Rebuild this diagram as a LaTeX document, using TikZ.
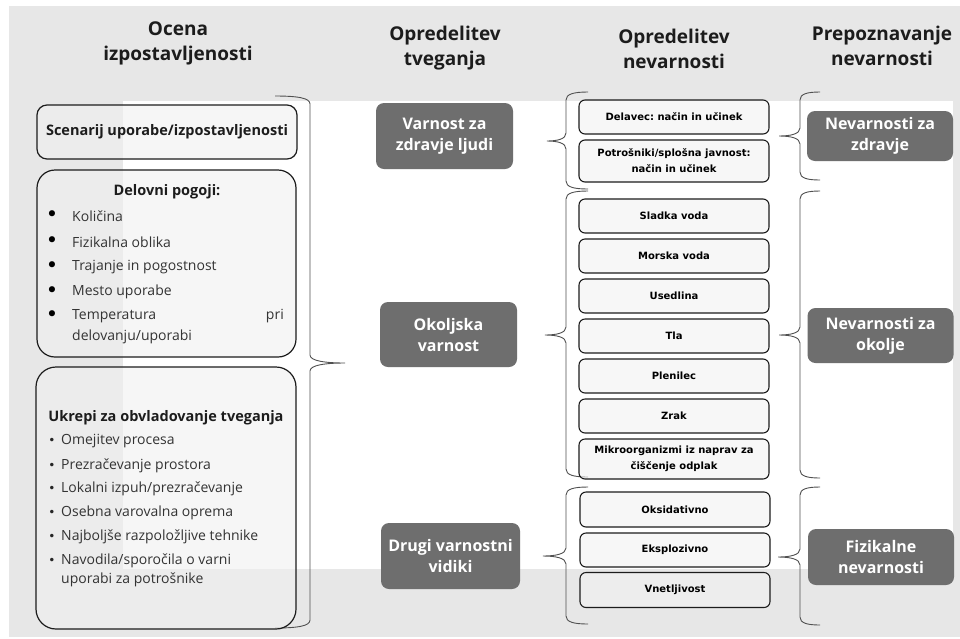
\documentclass[tikz,border=0pt]{standalone}
\usepackage{fontspec}
\setmainfont{Open Sans}
\newfontfamily\smallboxfont{DejaVu Sans}
\newfontfamily\bulletfont{DejaVu Sans}
\frenchspacing
\definecolor{bggray}{HTML}{E7E7E7}
\definecolor{darkfill}{HTML}{6E6E6E}
\definecolor{inkc}{HTML}{1C1C1C}
\definecolor{bracec}{HTML}{505050}
\newcommand{\curlybr}[6]{% #1 xv, #2 ytop, #3 ybot, #4 ymid, #5 hook x, #6 tip x
  \draw[bracestyle] (#5,#2) .. controls ({#1+0.35*(#5-#1)},#2) and (#1,{#2+2}) .. (#1,{#2+8})
    -- (#1,{#4-8}) .. controls (#1,{#4-2}) and ({#1+0.45*(#6-#1)},#4) .. (#6,#4)
    .. controls ({#1+0.45*(#6-#1)},#4) and (#1,{#4+2}) .. (#1,{#4+8})
    -- (#1,{#3-8}) .. controls (#1,{#3-2}) and ({#1+0.35*(#5-#1)},#3) .. (#5,#3);}
\begin{document}
\begin{tikzpicture}[x=1pt,y=-1pt,
  hdr/.style={font=\fontsize{19}{25}\selectfont\bfseries, text=inkc, align=center},
  lbox/.style={draw=inkc, line width=1.2pt, fill=black!6, fill opacity=0.6, text opacity=1, inner sep=0pt},
  ltitle/.style={font=\fontsize{14.5}{18}\selectfont\bfseries, text=inkc},
  item/.style={font=\fontsize{14}{17}\selectfont, text=black!80, anchor=west, inner sep=0pt},
  bigbul/.style={font=\bulletfont\fontsize{21}{21}\selectfont, text=black, inner sep=0pt},
  bul/.style={font=\bulletfont\fontsize{12}{12}\selectfont, text=black!85, inner sep=0pt},
  dbox/.style={fill=darkfill, rounded corners=8pt, text=white, font=\fontsize{16}{21}\selectfont\bfseries, align=center, inner sep=0pt},
  mbox/.style={draw=inkc, line width=1.1pt, fill=black!5, fill opacity=0.6, text opacity=1, rounded corners=6pt, minimum width=190, minimum height=34, font=\smallboxfont\fontsize{10}{16}\selectfont\bfseries, text=black, align=center, inner sep=0pt},
  bracestyle/.style={draw=bracec, line width=0.9pt}
]
\useasboundingbox (0,0) rectangle (960,638);
% backgrounds
\fill[bggray] (9,6) rectangle (960,637);
\fill[white] (123,101) rectangle (953,569);

% headers
\node[hdr] (h1) at (178,43) {Ocena\\izpostavljenosti};
\node[hdr] (h2) at (445,48) {Opredelitev\\tveganja};
\node[hdr] (h3) at (674,48.5) {Opredelitev\\nevarnosti};
\node[hdr] (h4) at (882,45.5) {Prepoznavanje\\nevarnosti};

% braces
\curlybr{310}{96}{628}{363}{275}{345}
\curlybr{566}{92}{189}{141}{588}{547}
\curlybr{566}{191}{477}{335}{588}{545}
\curlybr{566}{487}{624}{556}{588}{543}
\curlybr{800}{92}{180}{136}{820}{779}
\curlybr{800}{191}{478}{335}{820}{779}
\curlybr{800}{487}{625}{557}{820}{778}

% left column
\node[lbox, rounded corners=10pt, minimum width=260, minimum height=54, ltitle] (sc) at (167,132) {Scenarij uporabe/izpostavljenosti};

\node[lbox, rounded corners=18pt, minimum width=259, minimum height=187] (dp) at (166.5,263.5) {};
\node[ltitle] (dpt) at (167,192) {Delovni pogoji:};
\node[bigbul] (db1) at (52,216) {•}; \node[item] (di1) at (72,216) {Količina};
\node[bigbul] (db2) at (52,242) {•}; \node[item] (di2) at (72,242) {Fizikalna oblika};
\node[bigbul] (db3) at (52,267) {•}; \node[item] (di3) at (72,267) {Trajanje in pogostnost};
\node[bigbul] (db4) at (52,292) {•}; \node[item] (di4) at (72,292) {Mesto uporabe};
\node[bigbul] (db5) at (52,316) {•}; \node[item] (di5) at (72,316) {Temperatura};
\node[item, anchor=east] (di5b) at (284,316) {pri};
\node[item] (di5c) at (72,337) {delovanju/uporabi};

\node[lbox, rounded corners=20pt, minimum width=260, minimum height=262] (uk) at (166,498) {};
\node[ltitle] (ukt) at (166,418) {Ukrepi za obvladovanje tveganja};
\node[bul] (ub1) at (52,441) {•}; \node[item] (ui1) at (61,441) {Omejitev procesa};
\node[bul] (ub2) at (52,466) {•}; \node[item] (ui2) at (61,466) {Prezračevanje prostora};
\node[bul] (ub3) at (52,489) {•}; \node[item] (ui3) at (61,489) {Lokalni izpuh/prezračevanje};
\node[bul] (ub4) at (52,513) {•}; \node[item] (ui4) at (61,513) {Osebna varovalna oprema};
\node[bul] (ub5) at (52,537) {•}; \node[item] (ui5) at (61,537) {Najboljše razpoložljive tehnike};
\node[bul] (ub6) at (52,561) {•}; \node[item] (ui6) at (61,561) {Navodila/sporočila o varni};
\node[item] (ui6b) at (61,580) {uporabi za potrošnike};

% risk column
\node[dbox, minimum width=137, minimum height=66] (vz) at (444.5,136) {Varnost za\\zdravje ljudi};
\node[dbox, minimum width=137, minimum height=65] (ov) at (448.5,334.5) {Okoljska\\varnost};
\node[dbox, minimum width=139, minimum height=66] (dv) at (450.5,556) {Drugi varnostni\\vidiki};

% hazard column
\node[mbox] (m1) at (674,117) {Delavec: način in učinek};
\node[mbox, minimum height=42] (m2) at (674,161) {Potrošniki/splošna javnost:\\način in učinek};
\node[mbox] (m3) at (674,216) {Sladka voda};
\node[mbox] (m4) at (674,256) {Morska voda};
\node[mbox] (m5) at (674,296) {Usedlina};
\node[mbox] (m6) at (674,336) {Tla};
\node[mbox] (m7) at (674,376) {Plenilec};
\node[mbox] (m8) at (674,416) {Zrak};
\node[mbox, minimum height=40] (m9) at (674,459) {Mikroorganizmi iz naprav za\\čiščenje odplak};
\node[mbox, minimum height=35] (m10) at (675,509.5) {Oksidativno};
\node[mbox] (m11) at (675,550) {Eksplozivno};
\node[mbox, minimum height=35] (m12) at (675,590) {Vnetljivost};

% hazard identification column
\node[dbox, minimum width=146, minimum height=50] (nz) at (880,136) {Nevarnosti za\\zdravje};
\node[dbox, minimum width=146, minimum height=55] (no) at (880.5,335.5) {Nevarnosti za\\okolje};
\node[dbox, minimum width=146, minimum height=56] (fn) at (881,557) {Fizikalne\\nevarnosti};
\end{tikzpicture}
\end{document}
